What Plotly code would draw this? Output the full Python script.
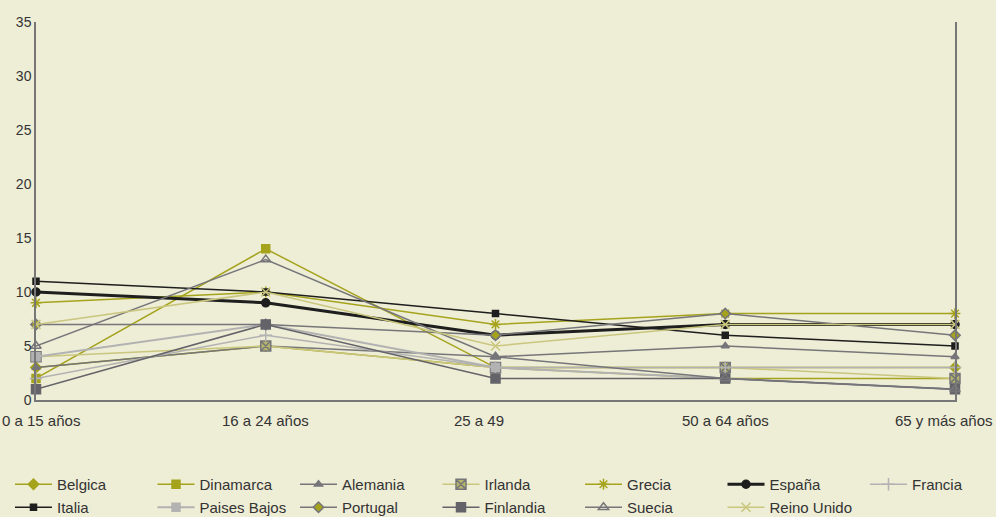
import plotly.graph_objects as go

# age groups (x categories)
grupos = ["0 a 15 años", "16 a 24 años", "25 a 49", "50 a 64 años", "65 y más años"]

belgica = [3, 5, 3, 3, 3]
dinamarca = [2, 14, 3, 2, 2]
alemania = [3, 5, 4, 5, 4]
irlanda = [4, 5, 3, 3, 2]
grecia = [9, 10, 7, 8, 8]
espana = [10, 9, 6, 7, 7]
francia = [2, 6, 3, 3, 3]
italia = [11, 10, 8, 6, 5]
paises_bajos = [4, 7, 3, 2, 1]
portugal = [7, 7, 6, 8, 6]
finlandia = [1, 7, 2, 2, 1]
suecia = [5, 13, 4, 2, 1]
reino_unido = [7, 10, 5, 7, 7]

OLIVE = "#a5a31c"
PALE = "#c9c67e"
GREY = "#76767a"
LGREY = "#b2b2b2"
DGREY = "#636369"
BLACK = "#1e1e1e"


def serie(nombre, vals, color, symbol, width=1.5, msize=7, mcolor=None, mline=None):
    return go.Scatter(
        x=grupos, y=vals, name=nombre, mode="lines+markers",
        line=dict(color=color, width=width),
        marker=dict(symbol=symbol, size=msize, color=mcolor or color,
                    line=dict(color=mline or color, width=1.5)),
        cliponaxis=False,
    )


data = [
    serie("Belgica", belgica, OLIVE, "diamond", msize=8),
    serie("Dinamarca", dinamarca, OLIVE, "square", msize=8),
    serie("Alemania", alemania, GREY, "triangle-up", msize=7),
    serie("Irlanda", irlanda, PALE, "square-x", msize=10, mcolor="#b5b46a", mline=GREY),
    serie("Grecia", grecia, OLIVE, "asterisk", msize=9),
    serie("España", espana, BLACK, "circle", width=3, msize=8),
    serie("Francia", francia, LGREY, "cross-thin", msize=9),
    serie("Italia", italia, BLACK, "square", msize=6),
    serie("Paises Bajos", paises_bajos, LGREY, "square", width=2, msize=8),
    serie("Portugal", portugal, GREY, "diamond", msize=8, mcolor=OLIVE, mline=GREY),
    serie("Finlandia", finlandia, DGREY, "square", msize=9),
    serie("Suecia", suecia, GREY, "triangle-up-open", msize=9),
    serie("Reino Unido", reino_unido, PALE, "x-thin", msize=9),
]

# x labels as annotations so the edge labels stay inside the page
shifts = [(-36, "left"), (0, "center"), (-17, "center"), (0, "center"), (40, "right")]
annots = []
for g, (sh, anc) in zip(grupos, shifts):
    annots.append(dict(
        x=g, y=0, xref="x", yref="paper", text=g, showarrow=False,
        xanchor=anc, yanchor="top", xshift=sh, yshift=-10,
        font=dict(size=15, color="#333333"),
    ))

layout = go.Layout(
    width=996, height=517,
    paper_bgcolor="#eeedd6",
    plot_bgcolor="#eeedd6",
    font=dict(family="Liberation Sans, Arial, sans-serif", size=14, color="#333333"),
    margin=dict(l=36, r=41, t=22, b=117, autoexpand=False),
    xaxis=dict(
        type="category", range=[0, 4], showgrid=False, zeroline=False,
        showline=True, linecolor="#777777", linewidth=1.5,
        showticklabels=False, ticks="", automargin=False,
    ),
    yaxis=dict(
        range=[0, 35], dtick=5, showgrid=False, zeroline=False,
        showline=True, linecolor="#777777", linewidth=1.5, mirror=True,
        ticks="", tickfont=dict(size=14, color="#333333"), automargin=False,
    ),
    annotations=annots,
    showlegend=True,
)

fig = go.Figure(data=data, layout=layout)

# one small legend per series, laid out as 7 columns x 2 rows
legends = {}
for i, tr in enumerate(fig.data):
    key = "legend" if i == 0 else "legend%d" % (i + 1)
    tr.legend = key
    col, row = i % 7, i // 7
    px = 10 + col * 142.5
    top = 468 + row * 23
    legends[key] = dict(
        orientation="h", xanchor="left", yanchor="top",
        x=(px - 36) / 919, y=-(top - 400) / 378,
        itemwidth=37,
        font=dict(size=15, color="#333333"), bgcolor="rgba(0,0,0,0)",
    )
fig.update_layout(**legends)

fig.write_html("out.html", config={"displayModeBar": False},
               post_script="document.body.style.margin='0';")
